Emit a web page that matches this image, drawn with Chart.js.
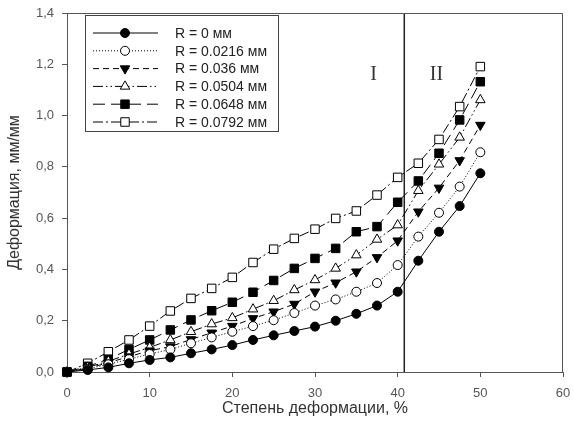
<!DOCTYPE html>
<html>
<head>
<meta charset="utf-8">
<script src="https://cdn.jsdelivr.net/npm/chart.js@4"></script>
<style>
  html, body { margin: 0; padding: 0; background: #fff; }
</style>
</head>
<body>
<canvas id="chart" width="574" height="432"></canvas>
<script>
// степень деформации, %
const strain = [0, 2.5, 5, 7.5, 10, 12.5, 15, 17.5, 20, 22.5, 25, 27.5, 30, 32.5, 35, 37.5, 40, 42.5, 45, 47.5, 50];

// деформация, мм/мм для каждого радиуса
const r0000 = [0, 0.008, 0.018, 0.034, 0.047, 0.057, 0.073, 0.088, 0.105, 0.125, 0.143, 0.16, 0.177, 0.2, 0.227, 0.259, 0.313, 0.434, 0.547, 0.647, 0.775];
const r0216 = [0, 0.012, 0.03, 0.05, 0.07, 0.088, 0.112, 0.135, 0.157, 0.179, 0.202, 0.23, 0.259, 0.283, 0.313, 0.347, 0.417, 0.528, 0.621, 0.723, 0.857];
const r0360 = [0, 0.015, 0.036, 0.06, 0.083, 0.099, 0.127, 0.153, 0.179, 0.209, 0.235, 0.265, 0.313, 0.348, 0.391, 0.447, 0.512, 0.625, 0.718, 0.825, 0.963];
const r0504 = [0, 0.018, 0.042, 0.07, 0.096, 0.125, 0.157, 0.187, 0.211, 0.245, 0.278, 0.32, 0.359, 0.404, 0.456, 0.517, 0.573, 0.707, 0.81, 0.915, 1.061];
const r0648 = [0, 0.022, 0.05, 0.088, 0.125, 0.164, 0.203, 0.239, 0.272, 0.311, 0.357, 0.404, 0.443, 0.482, 0.547, 0.567, 0.662, 0.745, 0.853, 0.983, 1.132];
const r0792 = [0, 0.034, 0.079, 0.125, 0.179, 0.238, 0.287, 0.326, 0.369, 0.427, 0.479, 0.521, 0.557, 0.599, 0.628, 0.69, 0.759, 0.814, 0.907, 1.035, 1.191];

const seriesLabels = ['R = 0 мм', 'R = 0.0216 мм', 'R = 0.036 мм', 'R = 0.0504 мм', 'R = 0.0648 мм', 'R = 0.0792 мм'];
const seriesValues = [r0000, r0216, r0360, r0504, r0648, r0792];

// граница зон I / II
const boundary = 40.8;

const looks = [
  { dash: [], style: 'circle', rot: 0, fill: '#000', r: 4.5 },
  { dash: [1, 2], style: 'circle', rot: 0, fill: '#fff', r: 4.5 },
  { dash: [6, 4], style: 'triangle', rot: 180, fill: '#000', r: 5.5 },
  { dash: [10, 3, 1.5, 3, 1.5, 3], style: 'triangle', rot: 0, fill: '#fff', r: 5.5 },
  { dash: [12, 6], style: 'rect', rot: 0, fill: '#000', r: 6 },
  { dash: [10, 3, 2, 3], style: 'rect', rot: 0, fill: '#fff', r: 6 }
];

const datasets = seriesValues.map((vals, i) => ({
  label: seriesLabels[i],
  data: strain.map((x, j) => ({ x: x, y: vals[j] })),
  borderColor: '#000',
  borderWidth: 1,
  borderDash: looks[i].dash,
  pointStyle: looks[i].style,
  rotation: looks[i].rot,
  pointRadius: looks[i].r,
  pointBackgroundColor: looks[i].fill,
  pointBorderColor: '#000',
  pointBorderWidth: 1,
  tension: 0,
  clip: false
}));

datasets.push({
  label: '',
  data: [{ x: boundary, y: 0 }, { x: boundary, y: 1.4 }],
  borderColor: '#222',
  borderWidth: 1.5,
  pointRadius: 0,
  clip: false
});

const comma = v => v.toFixed(1).replace('.', ',');

// рамка, обозначения зон и легенда
const decor = {
  id: 'decor',
  afterDatasetsDraw(chart) {
    const ctx = chart.ctx;
    const a = chart.chartArea;
    const xs = chart.scales.x, ys = chart.scales.y;
    ctx.save();
    ctx.strokeStyle = '#555';
    ctx.lineWidth = 1;
    ctx.beginPath();
    ctx.moveTo(a.left, a.top + 0.5);
    ctx.lineTo(a.right - 0.5, a.top + 0.5);
    ctx.lineTo(a.right - 0.5, a.bottom);
    ctx.stroke();

    ctx.fillStyle = '#333';
    ctx.font = '20px "Liberation Serif"';
    ctx.textAlign = 'center';
    ctx.textBaseline = 'middle';
    ctx.fillText('I', xs.getPixelForValue(37.1), ys.getPixelForValue(1.16));
    ctx.fillText('II', xs.getPixelForValue(44.7), ys.getPixelForValue(1.16));

    // легенда
    const bx = 85, by = 15, bw = 193, bh = 116;
    ctx.fillStyle = '#fff';
    ctx.fillRect(bx, by, bw, bh);
    ctx.strokeStyle = '#444';
    ctx.strokeRect(bx + 0.5, by + 0.5, bw, bh);
    ctx.font = '14px "Liberation Sans"';
    ctx.textAlign = 'left';
    seriesLabels.forEach((lab, i) => {
      const y = by + 18 + i * 17.8;
      const lk = looks[i];
      ctx.strokeStyle = '#000';
      ctx.lineWidth = 1;
      ctx.setLineDash(lk.dash);
      ctx.beginPath();
      ctx.moveTo(93, y);
      ctx.lineTo(158, y);
      ctx.stroke();
      ctx.setLineDash([]);
      ctx.fillStyle = lk.fill;
      Chart.helpers.drawPoint(ctx, { pointStyle: lk.style, rotation: lk.rot, radius: lk.r, borderWidth: 1 }, 125, y);
      ctx.fillStyle = '#222';
      ctx.fillText(lab, 175, y + 1);
    });
    ctx.restore();
  }
};

new Chart('chart', {
  type: 'line',
  data: { datasets: datasets },
  options: {
    responsive: false,
    animation: false,
    events: [],
    layout: { padding: { left: 0, right: 11, top: 13, bottom: 14 } },
    plugins: { legend: { display: false }, tooltip: { enabled: false } },
    scales: {
      x: {
        type: 'linear',
        min: 0,
        max: 60,
        afterFit: s => { s.height = 46; s.paddingLeft = 0; s.paddingRight = 0; },
        ticks: { stepSize: 10, color: '#555', padding: 9, maxRotation: 0, font: { family: 'Liberation Sans', size: 13 } },
        grid: { display: true, drawOnChartArea: false, drawTicks: true, tickLength: 5, tickColor: '#555' },
        border: { display: true, color: '#555', width: 1 },
        title: { display: true, text: 'Степень деформации, %', color: '#333', padding: { top: 4, bottom: 0 }, font: { family: 'Liberation Sans', size: 16 } }
      },
      y: {
        type: 'linear',
        min: 0,
        max: 1.4,
        afterFit: s => { s.width = 67; s.paddingTop = 0; s.paddingBottom = 0; },
        ticks: { stepSize: 0.2, color: '#555', padding: 8, callback: v => comma(v), font: { family: 'Liberation Sans', size: 13 } },
        grid: { display: true, drawOnChartArea: false, drawTicks: true, tickLength: 5, tickColor: '#555' },
        border: { display: true, color: '#555', width: 1 },
        title: { display: true, text: 'Деформация, мм/мм', color: '#333', padding: { top: 5, bottom: 0 }, font: { family: 'Liberation Sans', size: 16 } }
      }
    }
  },
  plugins: [decor]
});
</script>
</body>
</html>
